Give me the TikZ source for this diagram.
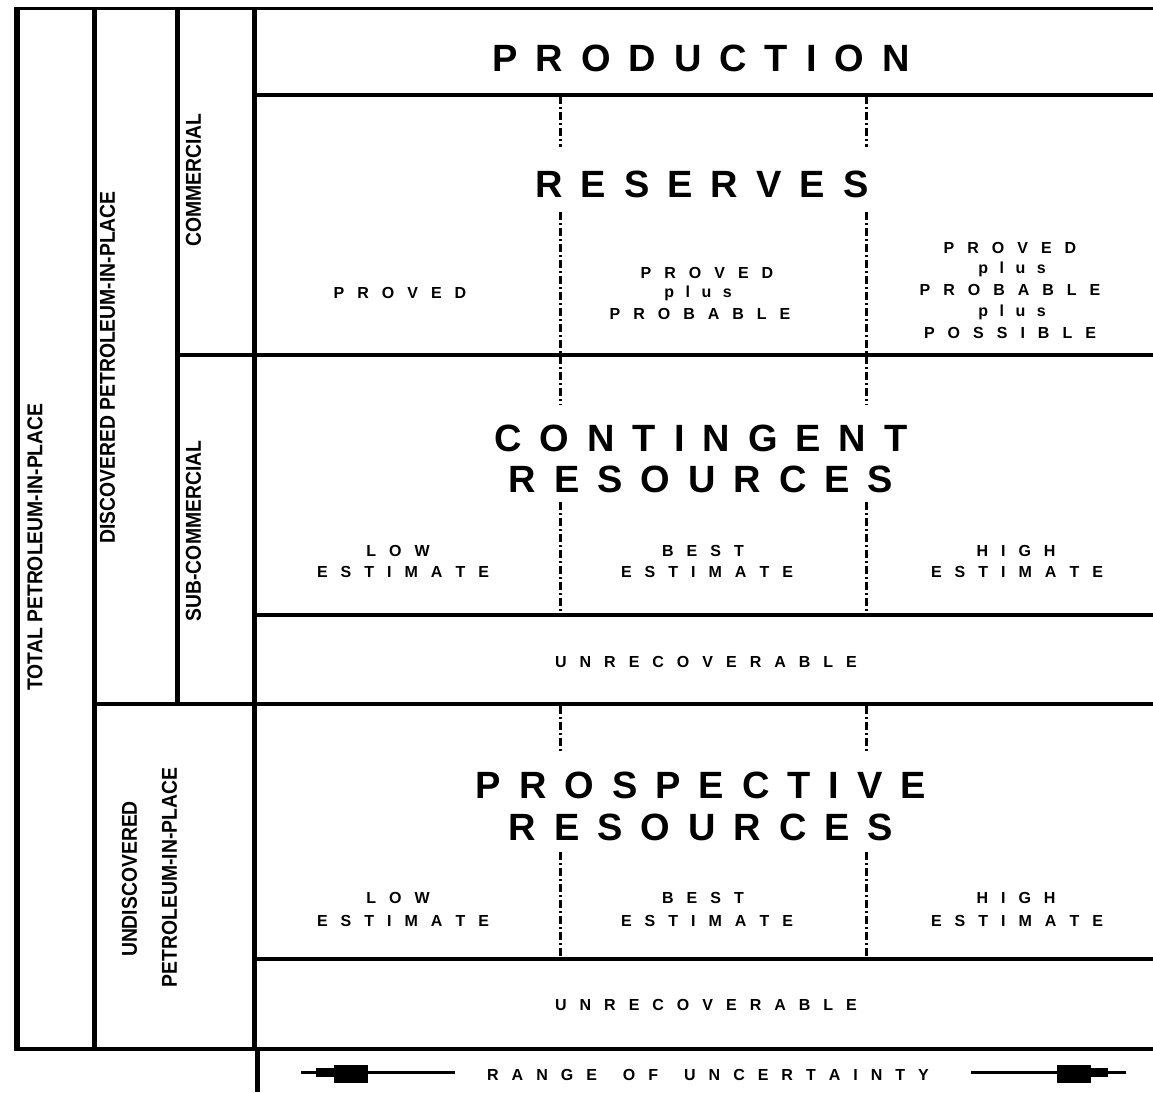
\documentclass[tikz,border=0pt]{standalone}
\usepackage{fontspec}
\setmainfont{Liberation Sans}
\newfontfamily\condfont{Liberation Sans}[FakeStretch=0.9]
\newcommand\bigfont{\fontsize{38}{40}\selectfont\bfseries\spaceskip=18pt\relax}
\newcommand\smallfont{\fontsize{16}{20}\selectfont\bfseries\spaceskip=13pt\relax}
\newcommand\plusfont{\fontsize{16}{20}\selectfont\bfseries\spaceskip=11.5pt\relax}
\newcommand\vertfont{\condfont\fontsize{21.5}{24}\selectfont\bfseries}
\begin{document}
\begin{tikzpicture}[x=1pt,y=-1pt,
  vline/.style={line width=5pt},
  hline/.style={line width=4pt},
  dotline/.style={line width=3pt, dash pattern=on 8pt off 3pt on 2pt off 3pt},
  bigtitle/.style={inner sep=0pt, anchor=base, font=\bigfont},
  smalltxt/.style={inner sep=0pt, anchor=base, font=\smallfont},
  plustxt/.style={inner sep=0pt, anchor=base, font=\plusfont},
  verttxt/.style={inner sep=0pt, rotate=90, font=\vertfont},
  arrowline/.style={line width=3.3pt},
]
\useasboundingbox (0,0) rectangle (1153,1092);
% frame lines
\draw[line width=3.5pt] (14,8.5) -- (1153,8.5);
\draw[line width=6pt] (17,7) -- (17,1051);
\draw[vline] (94,7) -- (94,1051);
\draw[vline] (177.5,7) -- (177.5,706);
\draw[vline] (254,7) -- (254,1049);
\draw[hline] (254,94.5) -- (1153,94.5);
\draw[hline] (177,355) -- (1153,355);
\draw[hline] (254,615) -- (1153,615);
\draw[hline] (94,704) -- (1153,704);
\draw[hline] (254,958.5) -- (1153,958.5);
\draw[hline] (14,1049) -- (1153,1049);
\draw[vline] (257.5,1049) -- (257.5,1092);
% dash-dot dividers
\foreach \xx in {560,866}{
  \draw[dotline] (\xx,96) -- (\xx,147);
  \draw[dotline] (\xx,212) -- (\xx,405);
  \draw[dotline] (\xx,502) -- (\xx,613);
  \draw[dotline] (\xx,706) -- (\xx,752);
  \draw[dotline] (\xx,852) -- (\xx,957);
}
% titles
\node[bigtitle] (production) at (701,71) {P R O D U C T I O N};
\node[bigtitle] (reserves) at (702,197) {R E S E R V E S};
\node[bigtitle] (contingent) at (701,451) {C O N T I N G E N T};
\node[bigtitle] (contres) at (701,492) {R E S O U R C E S};
\node[bigtitle] (prospective) at (701,798) {P R O S P E C T I V E};
\node[bigtitle] (prosres) at (701,840) {R E S O U R C E S};
% reserves categories
\node[smalltxt] (p1) at (400,298) {P R O V E D};
\node[smalltxt] (p2a) at (707,278) {P R O V E D};
\node[plustxt] (p2b) at (698,297) {p l u s};
\node[smalltxt] (p2c) at (700,319) {P R O B A B L E};
\node[smalltxt] (p3a) at (1010,253) {P R O V E D};
\node[plustxt] (p3b) at (1012,273) {p l u s};
\node[smalltxt] (p3c) at (1010,295) {P R O B A B L E};
\node[plustxt] (p3d) at (1012,316) {p l u s};
\node[smalltxt] (p3e) at (1010,338) {P O S S I B L E};
% contingent estimates
\node[smalltxt] (c1a) at (398,556) {L O W};
\node[smalltxt] (c1b) at (403,577) {E S T I M A T E};
\node[smalltxt] (c2a) at (703,556) {B E S T};
\node[smalltxt] (c2b) at (707,577) {E S T I M A T E};
\node[smalltxt] (c3a) at (1016,556) {H I G H};
\node[smalltxt] (c3b) at (1017,577) {E S T I M A T E};
\node[smalltxt] (u1) at (706,667) {U N R E C O V E R A B L E};
% prospective estimates
\node[smalltxt] (s1a) at (398,903) {L O W};
\node[smalltxt] (s1b) at (403,926) {E S T I M A T E};
\node[smalltxt] (s2a) at (703,903) {B E S T};
\node[smalltxt] (s2b) at (707,926) {E S T I M A T E};
\node[smalltxt] (s3a) at (1016,903) {H I G H};
\node[smalltxt] (s3b) at (1017,926) {E S T I M A T E};
\node[smalltxt] (u2) at (706,1010) {U N R E C O V E R A B L E};
% vertical labels
\node[verttxt] (total) at (35,547) {TOTAL PETROLEUM-IN-PLACE};
\node[verttxt] (disc) at (107.5,367.5) {DISCOVERED PETROLEUM-IN-PLACE};
\node[verttxt] (comm) at (193.5,180) {COMMERCIAL};
\node[verttxt] (subc) at (193.5,531) {SUB-COMMERCIAL};
\node[verttxt] (undisc) at (129.5,879) {UNDISCOVERED};
\node[verttxt] (undisc2) at (169.5,877.5) {PETROLEUM-IN-PLACE};
% range of uncertainty
\node[smalltxt] (range) at (708,1080) {R A N G E\hspace{13pt} O F\hspace{13pt} U N C E R T A I N T Y};
\coordinate (ltip) at (301,1072.3);
\coordinate (rtip) at (1125.6,1072.3);
\draw[arrowline, shorten <=32pt] (range.west |- ltip) -- (ltip);
\draw[arrowline, shorten <=42pt] (range.east |- rtip) -- (rtip);
\fill (316,1068.3) rectangle (333.5,1076.7);
\fill (333.5,1065) rectangle (368,1083.3);
\fill (1091,1068.3) rectangle (1108,1076.7);
\fill (1056.5,1065) rectangle (1091,1083.3);
\end{tikzpicture}
\end{document}
